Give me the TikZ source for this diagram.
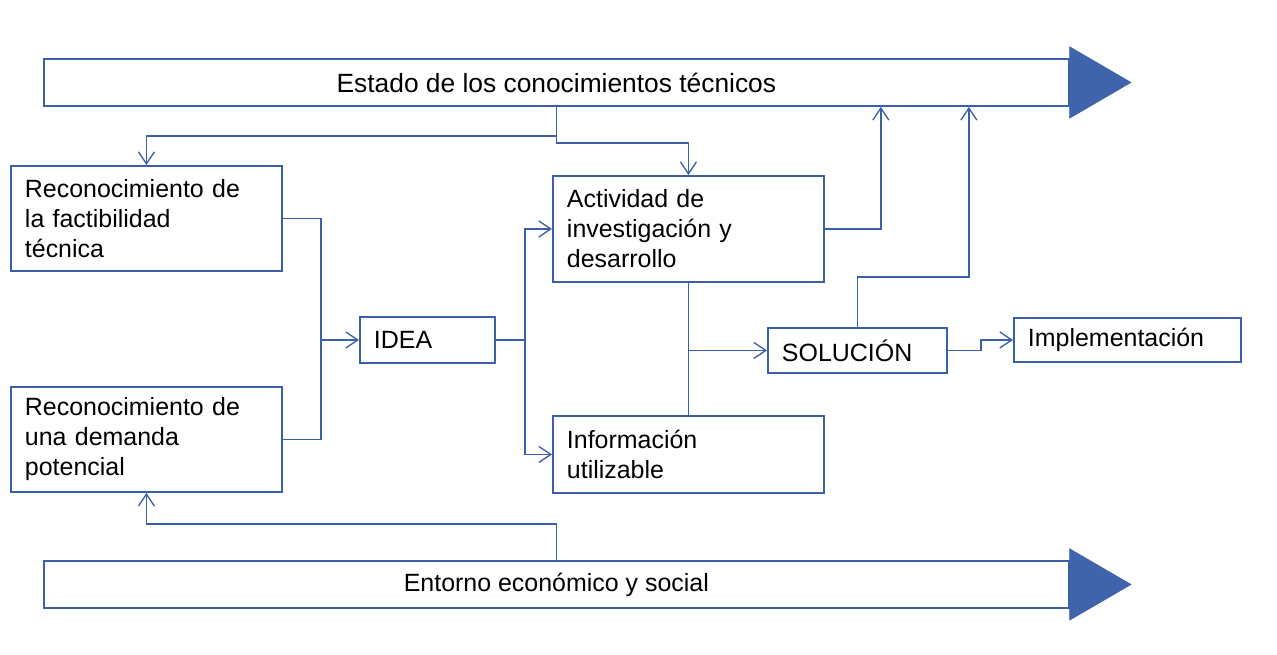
\documentclass[tikz,border=0pt]{standalone}
\usepackage{fontspec}
\setmainfont{Liberation Sans}
\usepackage{tikz}
\usetikzlibrary{arrows.meta}
\definecolor{azul}{RGB}{59,95,168}
\definecolor{azulrelleno}{RGB}{63,100,172}
\tikzset{
  caja/.style = {rectangle, draw = azul, line width = 1.1pt, fill = white, anchor = north west, inner xsep = 0.28cm, inner ysep = 0pt, align = left},
  barra/.style = {rectangle, draw = azul, line width = 1.1pt, fill = white, anchor = north west, inner sep = 0pt, minimum width = 20.5cm, minimum height = 0.94cm},
  linea/.style = {draw = azul, line width = 0.75pt},
  flecha/.style = {linea, -{Straight Barb[length = 0.24cm, width = 0.32cm]}},
  cabeza/.style = {fill = azulrelleno, draw = azulrelleno, line width = 0.5pt}
}

\begin{document}
\begin{tikzpicture}[x = 0.02cm, y = -0.02cm, font = \fontsize{14.2}{17.1}\selectfont]
\useasboundingbox (0,0) rectangle (1277,655);

\node[barra, font = \fontsize{15}{18}\selectfont] (estado) at (43,58) {Estado de los conocimientos técnicos};
\filldraw[cabeza] ([yshift = 0.71cm]estado.east) -- ++(1.22cm,-0.71cm) -- ([yshift = -0.71cm]estado.east) -- cycle;
\node[barra] (entorno) at (43,560) {Entorno económico y social};
\filldraw[cabeza] ([yshift = 0.71cm]entorno.east) -- ++(1.22cm,-0.71cm) -- ([yshift = -0.71cm]entorno.east) -- cycle;

\node[caja, minimum width = 5.42cm, minimum height = 2.1cm, text width = 4.86cm] (factibilidad) at (10,165) {Reconocimiento de\\la factibilidad\\técnica};
\node[caja, minimum width = 5.42cm, minimum height = 2.1cm, text width = 4.86cm] (demanda) at (10,386) {Reconocimiento de\\una demanda\\potencial};
\node[caja, minimum width = 2.7cm, minimum height = 0.92cm, text width = 2.14cm] (idea) at (359,316) {IDEA};
\node[caja, minimum width = 5.42cm, minimum height = 2.12cm, text width = 4.86cm] (investigacion) at (552,175) {Actividad de\\investigación y\\desarrollo};
\node[caja, minimum width = 5.42cm, minimum height = 1.54cm, text width = 4.86cm] (informacion) at (552,415) {Información\\utilizable};
\node[caja, minimum width = 3.58cm, minimum height = 0.9cm, text width = 3.02cm] (solucion) at (767,327) {SOLUCIÓN};
\node[caja, minimum width = 4.54cm, minimum height = 0.88cm, text width = 3.98cm] (implementacion) at (1013,317) {Implementación};

\coordinate (bus) at ([xshift = -0.76cm]idea.west);
\coordinate (reparto) at ([xshift = 0.58cm]idea.east);
\coordinate (s1) at ([xshift = 1.12cm]investigacion.east);
\coordinate (s2) at ([yshift = 1cm]solucion.north);
\coordinate (s3) at ([xshift = 2.23cm]s2);
\coordinate (e1) at ([yshift = 0.72cm]entorno.north);

\draw[flecha] (estado.south) -- ++(0,29) -| (factibilidad.north);
\draw[flecha] (estado.south) -- ++(0,36) -| (investigacion.north);
\draw[linea] (factibilidad.east) -| (bus) |- (demanda.east);
\draw[flecha] (bus) -- (idea.west);
\draw[linea] (idea.east) -- (reparto);
\draw[flecha] (reparto) |- (investigacion.west);
\draw[flecha] (reparto) |- (informacion.west);
\draw[linea] (investigacion.south) -- (informacion.north);
\draw[flecha] (investigacion.south |- solucion.west) -- (solucion.west);
\draw[flecha] (investigacion.east) -- (s1) -- (s1 |- estado.south);
\draw[flecha] (solucion.north) -- (s2) -- (s3) -- (s3 |- estado.south);
\draw[flecha] (solucion.east) -- ++(33,0) |- (implementacion.west);
\draw[flecha] (entorno.north) -- (e1) -| (demanda.south);
\end{tikzpicture}
\end{document}
